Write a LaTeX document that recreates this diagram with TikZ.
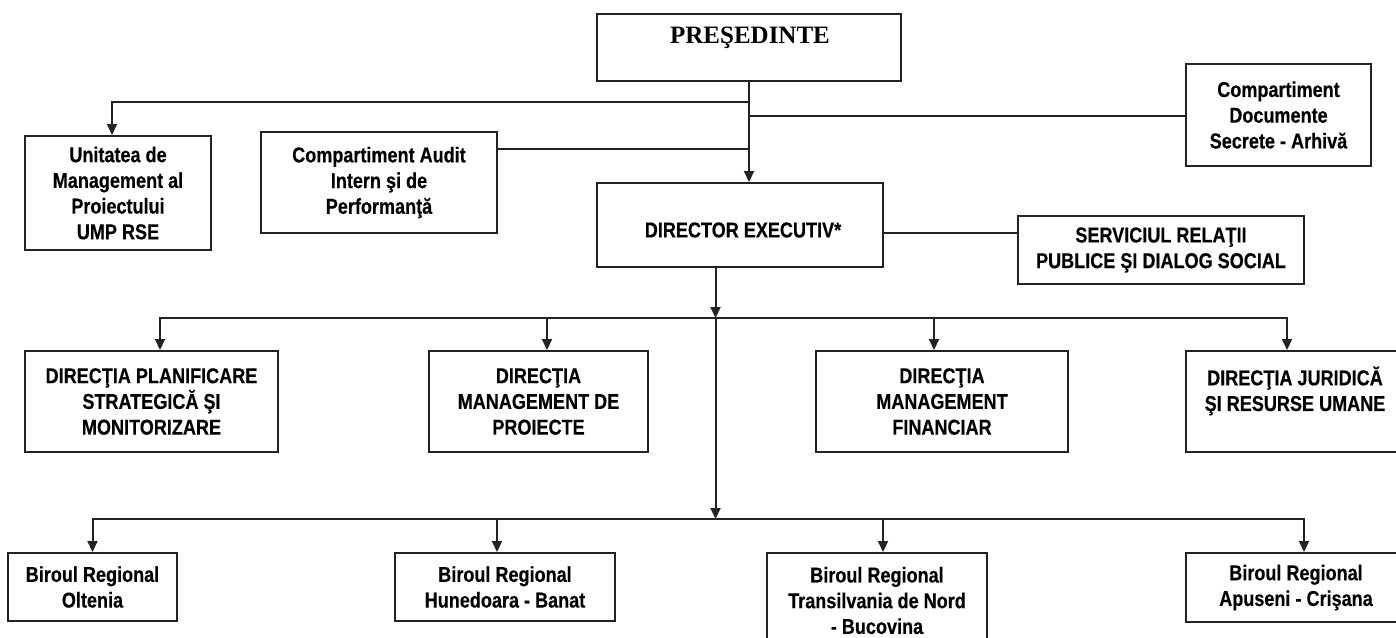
\documentclass[tikz,border=0pt]{standalone}
\usepackage{fontspec}
\setmainfont{Liberation Sans}[FakeStretch=0.84,BoldFeatures={FakeBold=0.3}]
\newfontfamily\presfont{Liberation Serif}
\usetikzlibrary{arrows.meta,calc}
\definecolor{ln}{RGB}{35,35,35}
\newcommand\chartfont{\bfseries\fontsize{21.5}{25.7}\selectfont}
\begin{document}
\begin{tikzpicture}[x=1pt,y=-1pt,
  box/.style={draw=ln,line width=2pt,inner sep=0pt,align=center,fill=white,font=\chartfont},
  txt/.style={inner sep=0pt,align=center,font=\chartfont},
  conn/.style={draw=ln,line width=2pt},
  arr/.style={conn,-{Triangle[length=11pt,width=10pt]}}]
\useasboundingbox (0,0) rectangle (1396,637);
\clip (0,0) rectangle (1396,637);
\fill[white] (0,0) rectangle (1396,637);

% boxes
\node[box,minimum width=304pt,minimum height=67pt] (pres) at (749,47.5) {};
\node[inner sep=0pt,font=\presfont\bfseries\fontsize{25}{30}\selectfont] (pres-t) at (750,38) {PREŞEDINTE};
\node[box,minimum width=186pt,minimum height=114pt] (ump) at (118,193) {Unitatea de\\Management al\\Proiectului\\UMP RSE};
\node[box,minimum width=236pt,minimum height=101pt] (audit) at (379,182.5) {Compartiment Audit\\Intern şi de\\Performanţă};
\node[box,minimum width=286pt,minimum height=84pt] (dir) at (740,225) {};
\node[txt] (dir-t) at (743,230) {DIRECTOR EXECUTIV*};
\node[box,minimum width=185pt,minimum height=102pt] (docs) at (1278.5,115) {Compartiment\\Documente\\Secrete - Arhivă};
\node[box,minimum width=286pt,minimum height=68pt] (serv) at (1161,250) {SERVICIUL RELAŢII\\PUBLICE ŞI DIALOG SOCIAL};
\node[box,minimum width=253pt,minimum height=101pt] (d1) at (151.5,401.5) {DIRECŢIA PLANIFICARE\\STRATEGICĂ ŞI\\MONITORIZARE};
\node[box,minimum width=219pt,minimum height=101pt] (d2) at (538.5,401.5) {DIRECŢIA\\MANAGEMENT DE\\PROIECTE};
\node[box,minimum width=252pt,minimum height=101pt] (d3) at (942,401.5) {DIRECŢIA\\MANAGEMENT\\FINANCIAR};
\node[box,minimum width=218pt,minimum height=101pt] (d4) at (1295,401.5) {DIRECŢIA JURIDICĂ\\ŞI RESURSE UMANE\\\mbox{}};
\node[box,minimum width=169pt,minimum height=68pt] (b1) at (92.5,587) {Biroul Regional\\Oltenia};
\node[box,minimum width=219.5pt,minimum height=68pt] (b2) at (505,587) {Biroul Regional\\Hunedoara - Banat};
\node[box,minimum width=220pt,minimum height=95pt] (b3) at (877,600.5) {Biroul Regional\\Transilvania de Nord\\- Bucovina};
\node[box,minimum width=220pt,minimum height=69pt] (b4) at (1296,587.5) {Biroul Regional\\Apuseni - Crişana};

% junctions
\coordinate (j1) at (749,102);
\coordinate (j2) at (749,116);
\coordinate (j3) at (749,149);
\coordinate (j4) at (950,233);
\coordinate (bA) at (715.5,318);
\coordinate (bB) at (715.5,519);

% connectors
\draw[arr] (pres.south) -- (pres.south |- dir.north);
\draw[arr] (j1) -| ([xshift=-6pt]ump.north);
\draw[conn] (j2) -- (docs.west |- j2);
\draw[conn] (audit.east |- j3) -- (j3);
\draw[conn] (dir.east |- j4) -- (serv.west |- j4);
\draw[arr] (dir.south -| bA) -- (bA);
\draw[arr] (bA) -- (bB);
\draw[arr] (bA) -| ([xshift=8.5pt]d1.north);
\draw[arr] (bA) -| ([xshift=-8pt]d4.north);
\draw[arr] ([xshift=8.5pt]d2.north |- bA) -- ([xshift=8.5pt]d2.north);
\draw[arr] ([xshift=-8pt]d3.north |- bA) -- ([xshift=-8pt]d3.north);
\draw[arr] (bB) -| (b1.north);
\draw[arr] (bB) -| ([xshift=8pt]b4.north);
\draw[arr] ([xshift=-8pt]b2.north |- bB) -- ([xshift=-8pt]b2.north);
\draw[arr] ([xshift=6pt]b3.north |- bB) -- ([xshift=6pt]b3.north);
\end{tikzpicture}
\end{document}
